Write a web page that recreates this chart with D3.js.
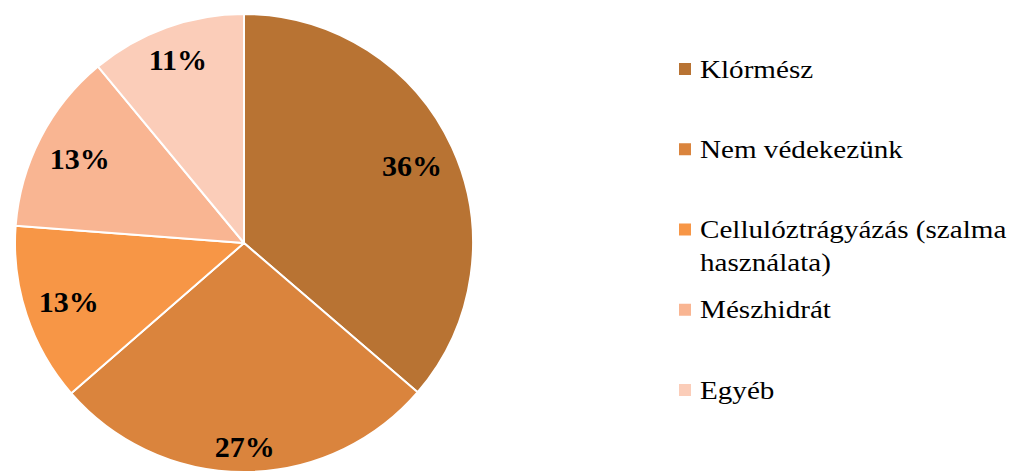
<!DOCTYPE html>
<html><head><meta charset="utf-8">
<script src="https://cdn.jsdelivr.net/npm/d3@7/dist/d3.min.js"></script>
<style>html,body{margin:0;padding:0;background:#fff;}svg{display:block;}</style>
</head><body>
<svg id="chart" width="1009" height="475"></svg>
<script>
const categories = ["Klórmész", "Nem védekezünk", "Cellulóztrágyázás (szalma használata)", "Mészhidrát", "Egyéb"];
const values = [36.3, 27.3, 12.6, 12.8, 11.0];
const colors = ["#B87333", "#DA843D", "#F79646", "#F9B592", "#FBCDB9"];

const FONT = `"Liberation Serif", "Times New Roman", Times, serif`;

const svg = d3.select("#chart");
const cx = 244, cy = 243, R = 229;
const g = svg.append("g").attr("transform", `translate(${cx},${cy})`);

const pie = d3.pie().sort(null).value(d => d)(values);
const arc = d3.arc().innerRadius(0).outerRadius(R);
const total = d3.sum(values);

g.selectAll("path.slice").data(pie).join("path")
  .attr("class", "slice")
  .attr("d", arc)
  .attr("fill", (d, i) => colors[i])
  .attr("stroke", "#fff").attr("stroke-width", 2).attr("stroke-linejoin", "round");

const labelFont = 30;
const rimLimit = R * 0.945;
pie.forEach((d, i) => {
  const txt = g.append("text")
    .style("font-family", FONT)
    .attr("font-weight", "bold")
    .attr("font-size", labelFont)
    .attr("fill", "#000")
    .attr("text-anchor", "middle")
    .text(Math.round(d.value / total * 100) + "%");
  const w = txt.node().getComputedTextLength();
  const h = labelFont * 0.7;
  const a = (d.startAngle + d.endAngle) / 2;
  const ux = Math.sin(a), uy = -Math.cos(a);
  let lo = 0, hi = R;
  for (let k = 0; k < 40; k++) {
    const m = (lo + hi) / 2;
    const x = ux * m, y = uy * m;
    let mx = 0;
    [[-w/2,-h/2],[w/2,-h/2],[-w/2,h/2],[w/2,h/2]].forEach(([ox, oy]) => {
      mx = Math.max(mx, Math.hypot(x + ox, y + oy));
    });
    if (mx > rimLimit) hi = m; else lo = m;
  }
  txt.attr("x", ux * lo).attr("y", uy * lo + h / 2);
});

const legX = 679, legY0 = 69, legStep = 80.25, lineH = 33, legFont = 26, maxW = 309, sx = 1.12;
categories.forEach((c, i) => {
  const y = legY0 + i * legStep;
  svg.append("rect").attr("x", legX).attr("y", y - 6).attr("width", 12).attr("height", 12).attr("fill", colors[i]);
  const tg = svg.append("g").attr("transform", `translate(${legX + 21},${y + 8.5}) scale(${sx},1)`);
  const t = tg.append("text")
    .style("font-family", FONT)
    .attr("font-size", legFont).attr("fill", "#000")
    .attr("x", 0).attr("y", 0);
  const words = c.split(" ");
  let line = [];
  let ts = t.append("tspan").attr("x", 0).attr("dy", 0);
  words.forEach(wd => {
    line.push(wd);
    ts.text(line.join(" "));
    if (ts.node().getComputedTextLength() * sx > maxW && line.length > 1) {
      line.pop();
      ts.text(line.join(" "));
      line = [wd];
      ts = t.append("tspan").attr("x", 0).attr("dy", lineH).text(wd);
    }
  });
});
</script>
</body></html>
